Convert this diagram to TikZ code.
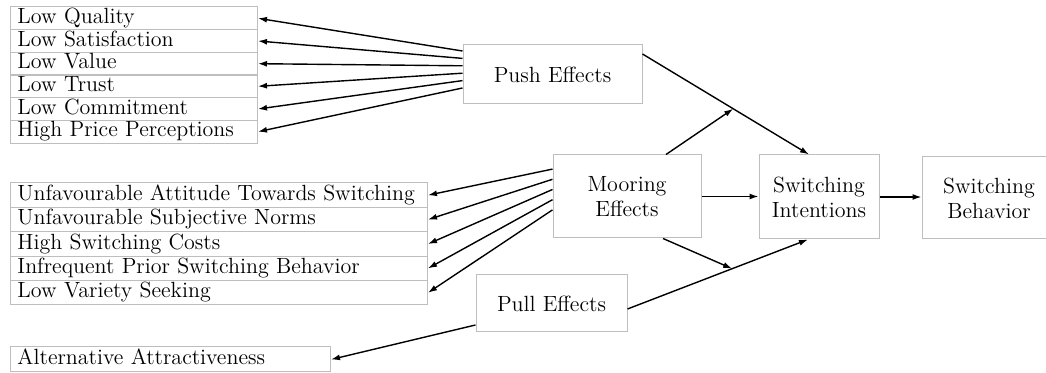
\documentclass[tikz,border=0pt]{standalone}
\usetikzlibrary{arrows.meta}
\definecolor{boxgray}{RGB}{190,190,190}
\begin{document}
\begin{tikzpicture}[x=0.5pt,y=-0.5pt,
  font=\fontsize{11}{12.5}\selectfont,
  box/.style={draw=boxgray, line width=0.5pt, inner sep=0pt, align=center},
  item/.style={draw=boxgray, line width=0.5pt, anchor=west, inner xsep=3.5pt, inner ysep=0pt, text height=7.6pt, text depth=2.4pt, align=left},
  pushitem/.style={item, text width=116.5pt, minimum height=11.33pt},
  mooritem/.style={item, text width=201.5pt, minimum height=12.2pt},
  pullitem/.style={item, text width=153pt, minimum height=12.5pt},
  arr/.style={-{Latex[length=4.5pt,width=3pt]}, line width=0.7pt}]
\clip (0,0) rectangle (1046,373);
\node [pushitem] (qual) at (10,18.3) {Low Quality};
\node [pushitem] (sat) at (10,41) {Low Satisfaction};
\node [pushitem] (val) at (10,63.7) {Low Value};
\node [pushitem] (trust) at (10,86.3) {Low Trust};
\node [pushitem] (commit) at (10,109) {Low Commitment};
\node [pushitem] (price) at (10,131.7) {High Price Perceptions};
\node [mooritem] (attitude) at (10,195.2) {Unfavourable Attitude Towards Switching};
\node [mooritem] (norms) at (10,219.6) {Unfavourable Subjective Norms};
\node [mooritem] (costs) at (10,244) {High Switching Costs};
\node [mooritem] (prior) at (10,268.4) {Infrequent Prior Switching Behavior};
\node [mooritem] (variety) at (10,292.8) {Low Variety Seeking};
\node [pullitem] (attract) at (10,359.5) {Alternative Attractiveness};
\node [box, minimum width=89.5pt, minimum height=29.5pt] (push) at (552.5,74.5) {Push Effects};
\node [box, minimum width=74pt, minimum height=41.5pt] (moor) at (627,196.5) {Mooring\\Effects};
\node [box, minimum width=60pt, minimum height=42pt] (si) at (819,197) {Switching\\Intentions};
\node [box, minimum width=67pt, minimum height=41pt] (sb) at (989,198) {Switching\\Behavior};
\node [box, minimum width=75.5pt, minimum height=28.5pt] (pull) at (551.5,303.5) {Pull Effects};
\draw [arr] ([yshift=11.75pt]push.west) -- (qual.east);
\draw [arr] ([yshift=8.05pt]push.west) -- (sat.east);
\draw [arr] ([yshift=4.35pt]push.west) -- (val.east);
\draw [arr] ([yshift=0.65pt]push.west) -- (trust.east);
\draw [arr] ([yshift=-3.05pt]push.west) -- (commit.east);
\draw [arr] ([yshift=-6.75pt]push.west) -- (price.east);
\draw [arr] ([yshift=13.7pt]moor.west) -- (attitude.east);
\draw [arr] ([yshift=8.6pt]moor.west) -- (norms.east);
\draw [arr] ([yshift=3.5pt]moor.west) -- (costs.east);
\draw [arr] ([yshift=-1.6pt]moor.west) -- (prior.east);
\draw [arr] ([yshift=-6.7pt]moor.west) -- (variety.east);
\draw [arr] ([yshift=-10.75pt]pull.west) -- (attract.east);
\draw [arr] ([yshift=10.25pt]push.east) -- coordinate[pos=0.545] (pushmid) ([xshift=-5pt]si.north);
\draw [arr] ([xshift=19.5pt]moor.north) -- (pushmid);
\draw [arr] (moor.east) -- (moor.east -| si.west);
\draw [arr] (si.east) -- (si.east -| sb.west);
\draw [arr] ([yshift=-2.75pt]pull.east) -- coordinate[pos=0.58] (pullmid) ([xshift=-5.5pt]si.south);
\draw [arr] ([xshift=18pt]moor.south) -- (pullmid);
\end{tikzpicture}
\end{document}
